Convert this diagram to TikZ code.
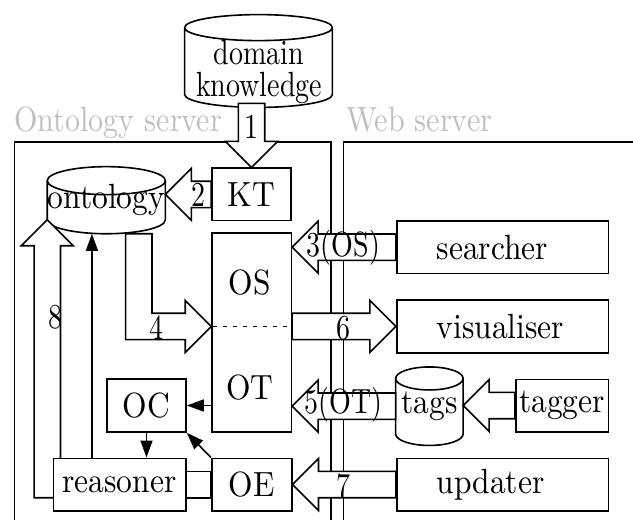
\documentclass[tikz,border=0pt]{standalone}
\usepackage{fontspec}
\setmainfont{lmroman10-regular.otf}[FakeStretch=0.9]
\newfontfamily\narrowfont{lmroman10-regular.otf}[FakeStretch=0.8]
\newfontfamily\captionfont{lmroman10-regular.otf}[FakeStretch=0.86]
\usetikzlibrary{calc,arrows.meta}
\pgfdeclarelayer{back}
\pgfdeclarelayer{pipes}
\pgfsetlayers{back,pipes,main}

% hollow straight arrow from #1 to the tip #2
\newcommand\fatarrow[2]{%
  \path ($(#2)!13pt!(#1)$) coordinate (fh);
  \draw[fat] ($(#1)!6.6pt!90:(#2)$) -- ($(fh)!6.6pt!90:(#2)$) -- ($(fh)!13pt!90:(#2)$)
    -- (#2) -- ($(fh)!13pt!-90:(#2)$) -- ($(fh)!6.6pt!-90:(#2)$)
    -- ($(#1)!6.6pt!-90:(#2)$) -- cycle;}

% hollow arrow from #1 over the corner #2 to the tip #3
\newcommand\fatbend[3]{%
  \path ($(#3)!13pt!(#2)$) coordinate (fh);
  \draw[fat] ($(#1)!6.6pt!90:(#2)$)
    -- ($(#2)!6.6pt!-90:(#1) + (#2)!6.6pt!90:(#3) - (#2)$)
    -- ($(fh)!6.6pt!90:(#3)$) -- ($(fh)!13pt!90:(#3)$) -- (#3)
    -- ($(fh)!13pt!-90:(#3)$) -- ($(fh)!6.6pt!-90:(#3)$)
    -- ($(#2)!6.6pt!90:(#1) + (#2)!6.6pt!-90:(#3) - (#2)$)
    -- ($(#1)!6.6pt!-90:(#2)$) -- cycle;}

% cylinder outline round the node #1, end ellipses of y radius #2
\newcommand\drum[2]{%
  \draw[stroke, fill=white] let \p1=(#1.north west), \p2=(#1.south east), \n1={(\x2-\x1)/2} in
    (\x1,\y1-#2) -- (\x1,\y2+#2)
    arc[start angle=180,end angle=360,x radius=\n1,y radius=#2]
    -- (\x2,\y1-#2)
    arc[start angle=0,end angle=180,x radius=\n1,y radius=#2] -- cycle
    (\x1,\y1-#2) arc[start angle=180,end angle=360,x radius=\n1,y radius=#2];}

\tikzset{
  stroke/.style={line width=0.8pt},
  every node/.style={font=\fontsize{17.5pt}{21pt}\selectfont, inner sep=0pt},
  box/.style={draw, stroke, fill=white, rectangle, minimum height=26.2pt},
  wide/.style={box, inner xsep=20pt, text width=65.8pt, align=left},
  slot/.style={rectangle, inner sep=0pt},
  region/.style={draw, stroke, rectangle, minimum width=158.25pt, minimum height=209pt},
  fat/.style={draw, stroke, fill=white, line join=miter},
  ta/.style={stroke, -{Triangle[length=8.5pt,width=6pt]}},
  num/.style={font=\narrowfont\fontsize{17.5pt}{21pt}\selectfont},
  caption/.style={text=black!25, anchor=base west, font=\captionfont\fontsize{17.5pt}{21pt}\selectfont},
}

\begin{document}
\begin{tikzpicture}[x=0.5pt, y=-0.5pt, line width=0.8pt]
\useasboundingbox (0,0) rectangle (633,520);
\clip (0,0) rectangle (633,520);

% servers
\begin{pgfonlayer}{back}
  \node[region] (osrv) at (172.75,351) {};
  \node[region] (wsrv) at (501.75,351) {};
\end{pgfonlayer}
\node[caption] (osrvname) at (14,131) {Ontology server};
\node[caption] (wsrvname) at (346,131) {Web server};

% boxes
\node[box, minimum width=39.65pt] (KT) at (251.5,194.4) {KT};
\node[box, minimum width=39.65pt, minimum height=99.5pt] (OSOT) at (251.7,332.5) {};
\node (OS) at (250,283) {OS};
\node (OT) at (250,388) {OT};
\node[box, minimum width=39.5pt, minimum height=26.5pt] (OC) at (146.5,405.5) {OC};
\node[box, minimum width=66.2pt] (reasoner) at (119.5,484.5) {reasoner};
\node[box, minimum width=40pt] (OE) at (251.7,484.5) {OE};
\node[wide] (searcher) at (502.5,247.2) {searcher};
\node[wide, minimum height=26.35pt] (visualiser) at (502.5,326.4) {visualiser};
\node[box, minimum width=46.3pt] (tagger) at (562,405.5) {tagger};
\node[wide] (updater) at (502.5,484.5) {updater};

% stores
\node[slot, minimum width=73.5pt, minimum height=46pt] (dk) at (258.5,61) {};
\node[align=center, font=\narrowfont\fontsize{17.5pt}{16pt}\selectfont] (dktext) at (259,72) {domain\\knowledge};
\node[slot, minimum width=53pt, minimum height=33.15pt] (ontology) at (106.3,200.2) {ontology};
\node[slot, minimum width=33.35pt, minimum height=38.85pt] (tags) at (429.4,406.2) {tags};
\begin{pgfonlayer}{back}
  \drum{dk}{6.5pt}
  \drum{ontology}{7pt}
  \drum{tags}{5.75pt}
\end{pgfonlayer}

% end points of the hollow arrows
\coordinate (a1s) at ($(KT.north |- dk.south)+(0,-4)$);
\coordinate (a2t) at (ontology.east |- KT.west);
\coordinate (a3t) at (OSOT.east |- searcher.west);
\coordinate (dl) at (OSOT.west |- visualiser.west);
\coordinate (dr) at (OSOT.east |- visualiser.west);
\coordinate (a4s) at ($(ontology.south east)+(-26.5,0)$);
\coordinate (a4c) at (a4s |- dl);
\coordinate (a5t) at (OSOT.east |- tags.west);
\coordinate (a9t) at (tags.east |- tagger.west);
\coordinate (a8t) at ($(ontology.south west)+(0,-14)$);
\coordinate (a8c) at (a8t |- reasoner.center);

\begin{pgfonlayer}{pipes}
  \fatarrow{a1s}{KT.north}
  \fatarrow{KT.west}{a2t}
  \fatarrow{searcher.west}{a3t}
  \fatbend{a4s}{a4c}{dl}
  \fatarrow{tags.west}{a5t}
  \fatarrow{dr}{visualiser.west}
  \fatarrow{tagger.west}{a9t}
  \fatarrow{updater.west}{OE.east}
  \fatbend{reasoner.center}{a8c}{a8t}
  \draw[fat] ($(reasoner.east)+(0,-13.2)$) rectangle ($(OE.west)+(0,13.2)$);
\end{pgfonlayer}

% OS / OT divide
\draw[stroke, dash pattern=on 2pt off 3pt, dash phase=-1pt] (dl) -- (dr);

% plain arrows
\coordinate (r8) at ($(reasoner.north west)+(39.4,0)$);
\draw[ta] (r8) -- (r8 |- ontology.south);
\draw[ta] (OSOT.west |- OC.east) -- (OC.east);
\draw[ta] (OC.south) -- (OC.south |- reasoner.north);
\draw[ta] (OE.north west) -- (OC.south east);

% arrow numbers
\node[num] (n1) at (251,126.7) {1};
\node[num] (n2) at (198.5,195) {2};
\node[num] (n3) at (343.5,247.5) {3(OS)};
\node[num] (n4) at (156,328) {4};
\node[num] (n5) at (343.5,405) {5(OT)};
\node[num] (n6) at (343.5,328) {6};
\node[num] (n7) at (343.5,486) {7};
\node[num] (n8) at (55,317) {8};
\end{tikzpicture}
\end{document}
